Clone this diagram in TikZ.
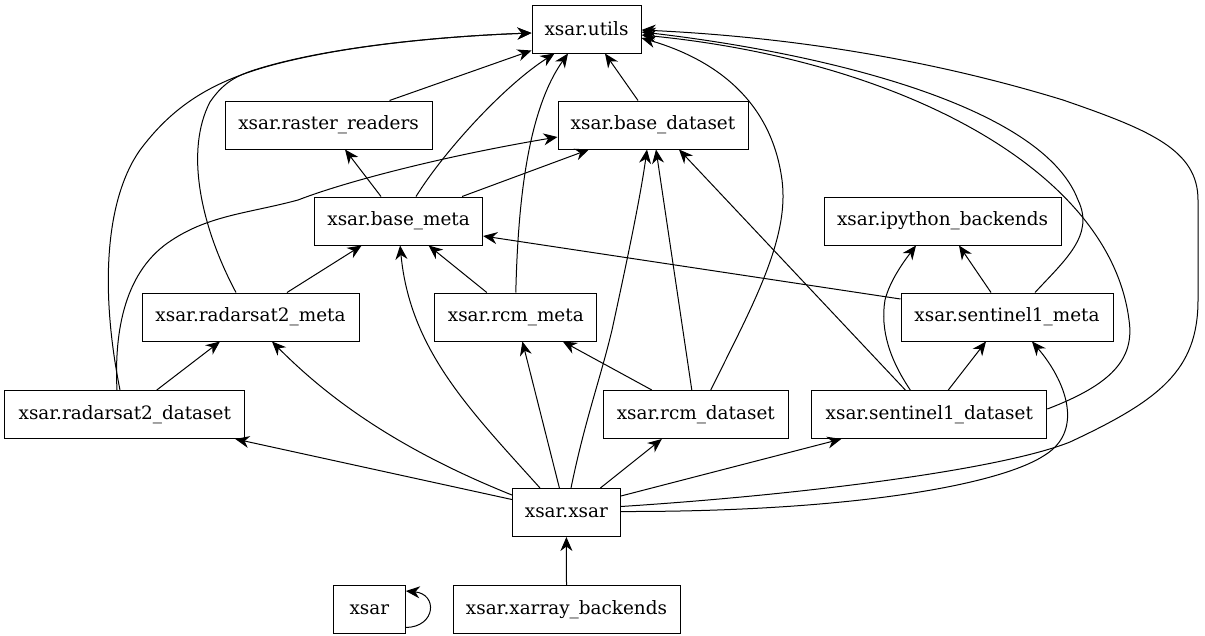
\documentclass[tikz,border=0pt]{standalone}
\usepackage{fontspec}
\setmainfont{DejaVu Serif}
\usetikzlibrary{arrows.meta}
\tikzset{
  mod/.style={draw, line width=1pt, inner sep=0pt, minimum height=48pt,
    font=\fontsize{18.4pt}{22pt}\selectfont},
  dep/.style={line width=1pt, -{Stealth[length=14pt,width=12pt,inset=4.5pt]}}
}
\begin{document}
\begin{tikzpicture}[x=1pt,y=-1pt]
\useasboundingbox (0,0) rectangle (1205,635);
% nodes
\node[mod, minimum width=109pt] (utils) at (586.5,29) {xsar.utils};
\node[mod, minimum width=207pt] (raster) at (328.5,125) {xsar.raster\_readers};
\node[mod, minimum width=190pt] (bds) at (653,125) {xsar.base\_dataset};
\node[mod, minimum width=168pt] (bmeta) at (398.6,221) {xsar.base\_meta};
\node[mod, minimum width=237pt] (ipy) at (942.5,221) {xsar.ipython\_backends};
\node[mod, minimum width=217pt] (r2meta) at (250.5,317) {xsar.radarsat2\_meta};
\node[mod, minimum width=162pt] (rcmmeta) at (515.8,317) {xsar.rcm\_meta};
\node[mod, minimum width=212pt] (s1meta) at (1007,317) {xsar.sentinel1\_meta};
\node[mod, minimum width=240pt] (r2ds) at (124.8,414.5) {xsar.radarsat2\_dataset};
\node[mod, minimum width=185pt] (rcmds) at (695.8,414.5) {xsar.rcm\_dataset};
\node[mod, minimum width=235pt] (s1ds) at (929.3,414.5) {xsar.sentinel1\_dataset};
\node[mod, minimum width=108pt] (xx) at (566.4,512.5) {xsar.xsar};
\node[mod, minimum width=72pt] (xsar) at (369.3,609.5) {xsar};
\node[mod, minimum width=227pt] (xarr) at (566.5,609.5) {xsar.xarray\_backends};
% edges to utils
\draw[dep] ([xshift=61pt]raster.north) -- ([yshift=3pt]utils.south west);
\draw[dep] ([xshift=-15pt]bds.north) -- ([xshift=18.5pt]utils.south);
\draw[dep] ([xshift=17.4pt]bmeta.north) .. controls (445,150) and (505,85) .. ([xshift=-32pt]utils.south);
\draw[dep] (rcmmeta.north) .. controls (518,200) and (528,110) .. ([xshift=-18.5pt]utils.south);
\draw[dep] ([xshift=-14.5pt]r2meta.north) .. controls (200,225) and (185,150) .. (210,102)
  .. controls (225,80) and (240,74) .. (264,67)
  .. controls (340,45) and (450,36) .. ([yshift=-4pt]utils.west);
\draw[dep] ([xshift=-4.8pt]r2ds.north) .. controls (100,290) and (105,200) .. (140,150)
  .. controls (170,110) and (205,85) .. (262,68)
  .. controls (340,45) and (450,36) .. ([yshift=-4pt]utils.west);
\draw[dep] ([xshift=15pt]rcmds.north) .. controls (750,310) and (790,240) .. (782,180)
  .. controls (770,90) and (700,55) .. ([yshift=-9pt]utils.east);
\draw[dep] ([xshift=28pt]s1meta.north) .. controls (1065,260) and (1095,235) .. (1078,200)
  .. controls (1040,100) and (800,50) .. ([yshift=-3pt]utils.east);
\draw[dep] ([yshift=5.5pt]s1ds.east) .. controls (1110,385) and (1135,360) .. (1129,320)
  .. controls (1110,170) and (900,60) .. ([yshift=-6pt]utils.east);
\draw[dep] ([yshift=6pt]xx.east) .. controls (800,495) and (1000,470) .. (1070,442)
  .. controls (1160,400) and (1198,370) .. (1198,300) -- (1198,200)
  .. controls (1198,150) and (1150,130) .. (1063,100)
  .. controls (900,50) and (750,35) .. ([yshift=-1pt]utils.east);
% edges to base_dataset
\draw[dep] ([xshift=-7.8pt]r2ds.north) .. controls (114,330) and (125,270) .. (172,240)
  .. controls (210,215) and (250,213) .. (298,200)
  .. controls (350,180) and (450,155) .. ([yshift=-12pt]bds.west);
\draw[dep] ([xshift=-21pt]bmeta.north east) -- ([xshift=-64pt]bds.south);
\draw[dep] ([xshift=4.6pt]xx.north) .. controls (585,420) and (600,380) .. (612,330)
  .. controls (625,270) and (640,200) .. ([xshift=-6pt]bds.south);
\draw[dep] ([xshift=-4pt]rcmds.north) -- ([xshift=3pt]bds.south);
\draw[dep] ([xshift=-24pt]s1ds.north) -- ([xshift=26pt]bds.south);
% edges to raster_readers
\draw[dep] ([xshift=-17.6pt]bmeta.north) -- ([xshift=16.5pt]raster.south);
% edges to base_meta
\draw[dep] ([xshift=36.5pt]r2meta.north) -- ([xshift=-37pt]bmeta.south);
\draw[dep] ([xshift=-29pt]rcmmeta.north) -- ([xshift=30pt]bmeta.south);
\draw[dep] ([xshift=-26.4pt]xx.north) .. controls (470,410) and (410,350) .. ([xshift=1.5pt]bmeta.south);
\draw[dep] ([yshift=18pt]s1meta.west) -- ([yshift=-15pt]bmeta.east);
% edges to ipython_backends
\draw[dep] ([xshift=-19pt]s1ds.north) .. controls (890,360) and (880,330) .. (885,300)
  .. controls (890,280) and (905,260) .. ([xshift=-26.5pt]ipy.south);
\draw[dep] ([xshift=-16pt]s1meta.north) -- ([xshift=16.5pt]ipy.south);
% edges to radarsat2_meta
\draw[dep] ([xshift=32pt]r2ds.north) -- ([xshift=-30.5pt]r2meta.south);
\draw[dep] ([yshift=17.5pt]xx.west) .. controls (400,450) and (330,400) .. ([xshift=21.5pt]r2meta.south);
% edges to rcm_meta
\draw[dep] ([xshift=-7pt]xx.north) -- ([xshift=6.6pt]rcmmeta.south);
\draw[dep] ([xshift=-44pt]rcmds.north) -- ([xshift=47pt]rcmmeta.south);
% other edges from xsar.xsar
\draw[dep] ([yshift=13pt]xx.west) -- ([xshift=-10pt]r2ds.south east);
\draw[dep] ([xshift=34pt]xx.north) -- ([xshift=-34pt]rcmds.south);
\draw[dep] ([yshift=16.5pt]xx.east) -- ([xshift=-88pt]s1ds.south);
% edges to sentinel1_meta
\draw[dep] ([xshift=19pt]s1ds.north) -- ([xshift=-21pt]s1meta.south);
\draw[dep] ([yshift=1pt]xx.east) .. controls (850,512) and (1000,485) .. (1045,455)
  .. controls (1085,430) and (1065,380) .. ([xshift=25pt]s1meta.south);
% xarray_backends and self loop
\draw[dep] (xarr.north) -- (xx.south);
\draw[dep] ([yshift=-18pt]xsar.east) .. controls (436,627) and (438,594) .. ([yshift=18.5pt]xsar.east);
\end{tikzpicture}
\end{document}
